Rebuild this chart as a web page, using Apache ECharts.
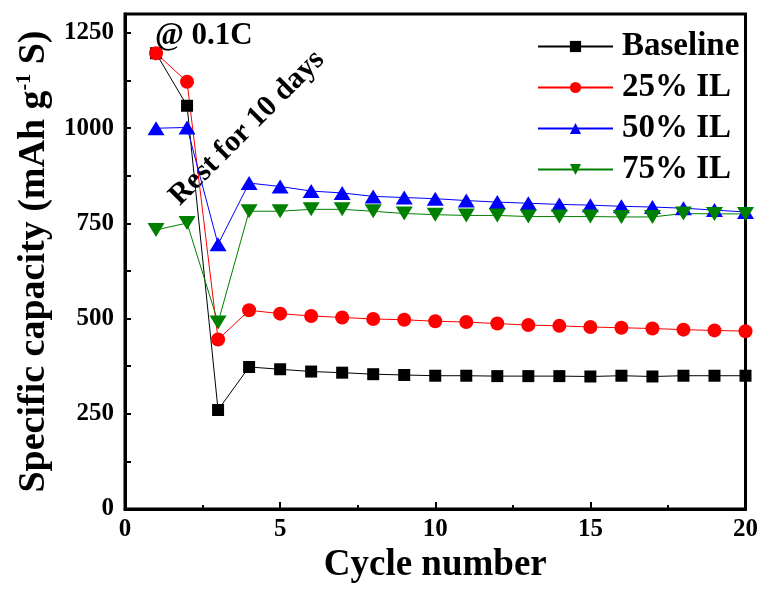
<!DOCTYPE html>
<html>
<head>
<meta charset="utf-8">
<script src="https://cdn.jsdelivr.net/npm/echarts@6/dist/echarts.min.js"></script>
<style>html,body{margin:0;padding:0;background:#fff}#c{width:761px;height:596px}</style>
</head>
<body>
<div id="c"></div>
<script>
const cycles = [1,2,3,4,5,6,7,8,9,10,11,12,13,14,15,16,17,18,19,20];
const baseline = [1197,1059,260,373,367,361,358,354,352,350,350,349,349,349,348,350,348,350,350,350];
const il25 = [1197,1122,445,522,513,507,503,499,497,493,491,487,483,481,478,476,474,471,469,467];
const il50 = [1000,1002,695,856,847,835,830,821,818,815,810,806,803,800,798,795,793,790,785,780];
const il75 = [733,751,490,782,782,787,787,782,776,773,771,771,768,768,768,767,767,776,775,775];
const seriesNames = ['Baseline','25% IL','50% IL','75% IL'];
const xTickLabels = [0,5,10,15,20];
const yTickLabels = [0,250,500,750,1000,1250];

const F = 'Liberation Serif, Times New Roman, serif';
const pair = arr => cycles.map((c,i)=>[c,arr[i]]);
function mk(name, data, color, symbol, size, rot){
  return {name, type:'line', data:pair(data), symbol, symbolSize:size, symbolRotate:rot||0,
    showSymbol:true, itemStyle:{color}, lineStyle:{color, width:1}, z: 2, animation:false};
}
const chart = echarts.init(document.getElementById('c'));
chart.setOption({
  backgroundColor:'#fff',
  animation:false,
  grid:{left:125, right:14, top:14, bottom:87, show:true, borderColor:'#000', borderWidth:3, backgroundColor:'transparent', containLabel:false},
  legend:{orient:'vertical', left:532, top:25, itemWidth:75, itemHeight:14, itemGap:8,
    textStyle:{fontFamily:F, fontWeight:'bold', fontSize:33, color:'#000', padding:[0,0,0,4]},
    data:seriesNames},
  xAxis:{type:'value', min:0, max:20, interval:5,
    name:'Cycle number', nameLocation:'middle', nameGap:38,
    nameTextStyle:{fontFamily:F, fontWeight:'bold', fontSize:37, color:'#000'},
    axisLine:{lineStyle:{color:'#000', width:3}},
    axisTick:{inside:true, length:7, lineStyle:{color:'#000', width:2}},
    minorTick:{show:true, splitNumber:2, length:4, lineStyle:{color:'#000', width:2}},
    splitLine:{show:false},
    axisLabel:{margin:8, fontFamily:F, fontWeight:'bold', fontSize:25, color:'#000',
      formatter: v => xTickLabels.includes(v) ? String(v) : ''}},
  yAxis:{type:'value', min:0, max:1300, interval:125,
    name:'Specific capacity (mAh g{sup|-1} S)', nameLocation:'middle', nameGap:68, nameRotate:90,
    nameTextStyle:{fontFamily:F, fontWeight:'bold', fontSize:38, color:'#000',
      rich:{sup:{fontFamily:F, fontWeight:'bold', fontSize:20, color:'#000', verticalAlign:'top', padding:[0,0,18,0]}}},
    axisLine:{lineStyle:{color:'#000', width:3}},
    axisTick:{inside:true, length:6, lineStyle:{color:'#000', width:2}},
    splitLine:{show:false},
    axisLabel:{margin:11, fontFamily:F, fontWeight:'bold', fontSize:25, color:'#000',
      formatter: v => yTickLabels.includes(v) ? String(v) : ''}},
  graphic:[
    {type:'text', x:155, y:36, style:{text:'@ 0.1C', font:'bold 31px Liberation Serif', fill:'#000', textVerticalAlign:'middle'}},
    {type:'text', x:247, y:128, rotation:Math.PI/4,
      style:{text:'Rest for 10 days', font:'bold 30px Liberation Serif', fill:'#000', textAlign:'center', textVerticalAlign:'middle'}}
  ],
  series:[
    mk('Baseline', baseline, '#000000', 'rect', 12),
    mk('25% IL', il25, '#ff0000', 'circle', 14),
    mk('50% IL', il50, '#0000ff', 'triangle', [17,14]),
    mk('75% IL', il75, '#008000', 'triangle', [17,14], 180)
  ]
});
</script>
</body>
</html>
